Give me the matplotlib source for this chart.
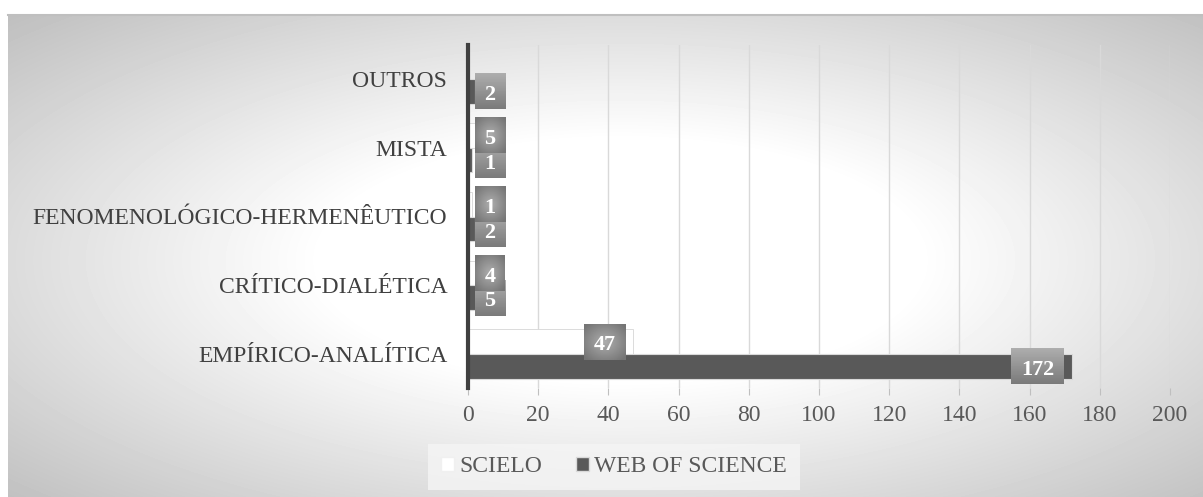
import numpy as np
import matplotlib.pyplot as plt
from matplotlib.patches import Patch

categories = ["EMPÍRICO-ANALÍTICA", "CRÍTICO-DIALÉTICA",
              "FENOMENOLÓGICO-HERMENÊUTICO", "MISTA", "OUTROS"]
scielo = [47, 4, 1, 5, 0]
wos = [172, 5, 2, 1, 2]
series_names = ["SCIELO", "WEB OF SCIENCE"]
x_ticks = list(range(0, 201, 20))

W, H = 1203, 497
DARK = '#595959'
plt.rcParams['font.family'] = ['Liberation Serif', 'DejaVu Serif']

fig = plt.figure(figsize=(W / 100, H / 100), dpi=100)

# chart area: grey radial shading, white in the middle
bg = fig.add_axes([0, 0, 1, 1], zorder=0)
yy, xx = np.mgrid[0:H, 0:W]
r = np.hypot((xx - 620) / 597, (yy - 260) / 242)
shade = np.clip(255 - 68 * np.clip(r - 0.5, 0, None), 0, 255) / 255
shade[:14, :] = 1
shade[:, :8] = 1
bg.imshow(shade, cmap='gray', vmin=0, vmax=1, extent=(0, W, H, 0),
          aspect='auto', interpolation='bilinear')
bg.plot([8, W], [14.5, 14.5], color='#bfbfbf', lw=1.5)
bg.set_xlim(0, W)
bg.set_ylim(H, 0)
bg.axis('off')

ax = fig.add_axes([468 / W, 1 - 388.4 / H, (1170 - 468) / W, (388.4 - 44.6) / H],
                  zorder=1)
ax.patch.set_alpha(0)

y = np.arange(len(categories))
h = 0.36
ax.barh(y + h / 2, scielo, height=h, color='white', edgecolor='#d6d6d6',
        lw=0.6, zorder=2)
ax.barh(y - h / 2, wos, height=h, color=DARK, edgecolor='#d9d9d9',
        lw=0.8, zorder=2)

ax.set_xlim(0, 200)
ax.set_ylim(-0.5, len(categories) - 0.5)
ax.set_xticks(x_ticks)
ax.set_yticks(y, categories)
ax.grid(axis='x', color='#d9d9d9', lw=1)
ax.set_axisbelow(True)
ax.tick_params(axis='x', length=5, color='#bfbfbf', labelsize=17,
               labelcolor=DARK, pad=7)
ax.tick_params(axis='y', length=0, pad=15, labelsize=17, labelcolor='#404040')
for s in ['top', 'right', 'bottom']:
    ax.spines[s].set_visible(False)
ax.spines['left'].set_color('#404040')
ax.spines['left'].set_linewidth(3)

# data labels in shaded grey boxes
fig.canvas.draw()
renderer = fig.canvas.get_renderer()
ppu = ax.bbox.width / 200          # pixels per x unit
dy_px = len(categories) / ax.bbox.height   # y units per pixel

gy, gx = np.mgrid[-1:1:40j, -1:1:60j]
radial = 0.68 - 0.22 * np.clip(np.hypot(gx, gy) / 1.3, 0, 1)
vertical = 0.68 - 0.2 * (gy + 1) / 2

label_size = 16
digit_h = 0.66 * label_size * 100 / 72

# WEB OF SCIENCE labels first so the SCIELO ones sit on top
for vals, offset, grad, z in [(wos, -h / 2, vertical, 4),
                              (scielo, h / 2, radial, 6)]:
    for i, v in enumerate(vals):
        if v == 0:
            continue
        yc = i + offset
        # digits sit a little under the middle of the box
        t = ax.text(0, yc - (digit_h / 2 + 1.5) * dy_px, str(v), color='white',
                    fontsize=label_size, fontweight='bold', ha='center',
                    va='baseline', zorder=z + 1)
        tw = t.get_window_extent(renderer).width
        bw, bh = tw + 19, 36
        end_px = v * ppu
        if end_px - 8 - bw >= 8:
            cx = end_px - 8 - bw / 2
        else:
            cx = 7 + bw / 2
        t.set_x(cx / ppu)
        ax.imshow(grad, cmap='gray', vmin=0, vmax=1, aspect='auto', zorder=z,
                  extent=((cx - bw / 2) / ppu, (cx + bw / 2) / ppu,
                          yc - bh / 2 * dy_px, yc + bh / 2 * dy_px))

ax.set_xlim(0, 200)
ax.set_ylim(-0.5, len(categories) - 0.5)

handles = [Patch(facecolor='white', edgecolor='#f0f0f0'),
           Patch(facecolor=DARK, edgecolor='#d9d9d9')]
leg = fig.legend(handles, series_names, loc='center',
                 bbox_to_anchor=(614 / W, 1 - 467 / H), ncol=2, frameon=True,
                 fancybox=False, fontsize=17, handlelength=0.55,
                 handleheight=0.55, handletextpad=0.25, columnspacing=1.4,
                 borderpad=0.55, labelcolor=DARK)
leg.get_frame().set_facecolor('#f5f5f5')
leg.get_frame().set_edgecolor('none')
leg.set_zorder(3)

fig.savefig('out.png', dpi=100)
